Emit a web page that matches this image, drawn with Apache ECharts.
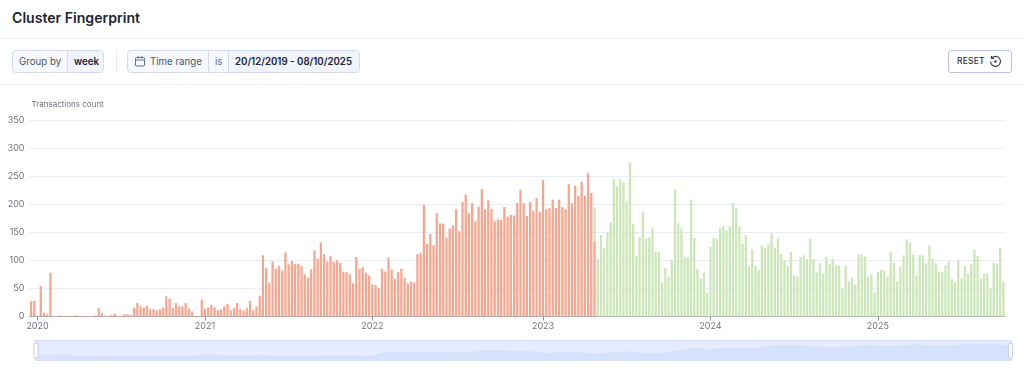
<!DOCTYPE html>
<html>
<head>
<meta charset="utf-8">
<style>
  html, body { margin: 0; padding: 0; background: #fff; }
  body { width: 1024px; height: 374px; position: relative; overflow: hidden; font-family: Inter, sans-serif; color: #1d2433; }
  .abs { position: absolute; box-sizing: border-box; }
  .title { left: 12px; top: 9px; font-size: 14.1px; line-height: 18px; font-weight: 600; }
  .rule { left: 0; width: 1024px; height: 1px; background: #e8ecf5; }
  .chip { top: 50px; height: 23px; border: 1px solid #d3daf0; border-radius: 4px; display: flex; font-size: 9.7px; line-height: 21px; background: #f8f9fe; overflow: hidden; }
  .chip span { box-sizing: border-box; padding: 0 0 0 6px; border-left: 1px solid #d3daf0; white-space: nowrap; }
  .chip span:first-child { border-left: 0; }
  .chip .val { background: #f1f3fa; font-weight: 600; }
  .chip .key { color: #4a5468; }
  .chip .op { color: #5d6f9e; }
  .reset { left: 948px; top: 50px; width: 64px; height: 23px; border: 1px solid #b9c4e4; border-radius: 3px; font-size: 8.5px; font-weight: 500; line-height: 21px; padding-left: 8px; letter-spacing: .2px; color: #2b3345; }
  #chart { left: 0; top: 90px; width: 1024px; height: 284px; }
</style>
<script src="https://cdn.jsdelivr.net/npm/echarts@6/dist/echarts.min.js"></script>
</head>
<body>
<div class="abs title">Cluster Fingerprint</div>
<div class="abs rule" style="top:38px"></div>
<div class="abs chip" style="left:12px;width:92px">
  <span class="key" style="width:54px">Group by</span><span class="val" style="flex:1">week</span>
</div>
<div class="abs" style="left:116px;top:50px;width:1px;height:23px;background:#e4e8f3"></div>
<div class="abs chip" style="left:127px;width:233px">
  <span class="key" style="width:80px;padding-left:22px">Time range</span><span class="op" style="width:20px">is</span><span class="val" style="flex:1">20/12/2019 - 08/10/2025</span>
</div>
<svg class="abs" style="left:134px;top:55px" width="12" height="12" viewBox="0 0 12 12" fill="none" stroke="#5d6f9e" stroke-width="1">
  <rect x="1.5" y="2.5" width="9" height="8.5" rx="1"/><path d="M1.5 5h9M4 1v2.5M8 1v2.5"/>
</svg>
<div class="abs rule" style="top:84px"></div>
<div class="abs reset">RESET</div>
<svg class="abs" style="left:989px;top:55px" width="13" height="13" viewBox="0 0 13 13" fill="none" stroke="#3a4357" stroke-width="1.2">
  <path d="M2.6 3.2A5 5 0 1 1 1.5 6.5M2.4 .9v2.6h2.6"/><circle cx="6.5" cy="6.5" r=".7" fill="#3a4357"/>
</svg>
<div id="chart" class="abs"></div>
<script>
var yTicks = [0, 50, 100, 150, 200, 250, 300, 350];
var yearLabels = { 2: '2020', 54: '2021', 106: '2022', 159: '2023', 211: '2024', 263: '2025' };

// cluster transactions per week
var orangeValues = [
  27,28,0,54,7,4,78,1,1,2,1,1,1,1,2,1,1,1,1,1,2,15,6,1,1,3,5,1,1,4,4,3,15,24,18,16,19,13,13,11,13,16,36,32,15,24,18,18,24,14,9,
  0,0,30,14,16,20,16,11,13,18,22,11,15,24,13,11,15,28,11,18,37,109,86,60,98,85,90,82,114,93,99,94,94,90,75,69,84,118,103,132,111,98,108,97,100,96,80,79,75,59,106,85,88,78,73,57,56,50,85,80,105,84,67,79,85,69,59,
  62,61,111,113,199,129,147,127,184,166,165,140,157,162,191,152,204,217,184,202,170,196,227,191,207,192,170,173,172,195,178,181,180,202,226,202,179,204,188,211,186,243,191,193,208,193,208,195,191,236,202,233,215,240,215,255,220,134
];
var greenValues = [
  60,102,145,123,151,168,245,232,245,239,206,274,165,108,141,187,138,142,157,115,115,60,86,71,100,227,166,157,106,105,208,140,85,67,78,42,124,140,139,158,161,153,161,202,193,160,130,145,89,120,90,83,127,123,129,148,122,139,111,100,90,115,73,71,
  106,109,102,139,102,79,95,76,106,94,103,91,91,50,91,62,69,57,111,110,107,71,75,42,80,83,83,71,115,96,62,88,109,137,131,110,73,109,109,95,127,103,95,79,80,91,98,67,62,100,68,90,76,93,119,108,67,76,76,51,96,93,122,62
];
// trend in the slider, read every 16px across its width
var sliderTrend = [
  17,17,19,13,14,13,13,14,15,15,16,18,16,16,17,15,15,15,16,16,16,15,27,26,27,26,26,24,31,30,
  29,28,23,27,26,21,25,27,24,22,29,38,33,37,37,37,45,45,45,40,39,41,47,43,44,48,44,44,48,48,50,43
];

var weeks = orangeValues.length + greenValues.length - 1;
var categories = [];
for (var i = 0; i < weeks; i++) categories.push(String(i));
var trendCategories = sliderTrend.map(function (v, i) { return String(i); });

var orangeData = categories.map(function (c, i) { return i < orangeValues.length ? orangeValues[i] : null; });
var greenOffset = orangeValues.length - 1;
var greenData = categories.map(function (c, i) { return i >= greenOffset ? greenValues[i - greenOffset] : null; });

var myChart = echarts.init(document.getElementById('chart'));
myChart.setOption({
  animation: false,
  grid: { left: 29.5, right: 19, top: 30, bottom: 57.5 },
  xAxis: [{
    type: 'category',
    data: categories,
    axisLine: { lineStyle: { color: '#a3a7b0', width: 1 } },
    axisTick: {
      show: true,
      alignWithLabel: true,
      length: 4,
      lineStyle: { color: '#8d919b' },
      interval: function (i) { return yearLabels[i] !== undefined; }
    },
    axisLabel: {
      interval: function (i) { return yearLabels[i] !== undefined; },
      formatter: function (v, i) { return yearLabels[i] || ''; },
      color: '#6e7380',
      fontFamily: 'Inter',
      fontSize: 9,
      margin: 5
    }
  }, {
    type: 'category',
    data: trendCategories,
    show: false
  }],
  yAxis: [{
    type: 'value',
    min: yTicks[0],
    max: yTicks[yTicks.length - 1],
    interval: 50,
    name: 'Transactions count',
    nameLocation: 'end',
    nameGap: 11,
    nameTextStyle: { color: '#6e7380', fontFamily: 'Inter', fontSize: 8, align: 'left', padding: [0, 0, 0, 2] },
    axisLine: { show: false },
    axisTick: { show: false },
    splitLine: { lineStyle: { color: '#e9edf8', width: 1 } },
    axisLabel: { color: '#6e7380', fontFamily: 'Inter', fontSize: 9, margin: 5 }
  }, {
    type: 'value',
    show: false,
    splitLine: { show: false }
  }],
  dataZoom: [{
    type: 'slider',
    xAxisIndex: [1, 0],
    filterMode: 'none',
    left: 32.5,
    right: 15,
    top: 250,
    height: 21,
    showDetail: false,
    borderColor: '#d6dff7',
    backgroundColor: '#e6edfd',
    fillerColor: 'rgba(230,237,253,0.2)',
    handleIcon: 'path://M1,0H3A1,1 0 0 1 4,1V13A1,1 0 0 1 3,14H1A1,1 0 0 1 0,13V1A1,1 0 0 1 1,0Z',
    handleSize: '70%',
    handleStyle: { color: '#ffffff', borderColor: '#c5cde6' },
    moveHandleSize: 0,
    dataBackground: { lineStyle: { color: '#c7d6f8', width: 0.5 }, areaStyle: { color: '#d2dffa', opacity: 1 } },
    selectedDataBackground: { lineStyle: { color: '#c7d6f8', width: 0.5 }, areaStyle: { color: '#d2dffa', opacity: 1 } }
  }],
  series: [{
    name: 'trend',
    type: 'line',
    xAxisIndex: 1,
    yAxisIndex: 1,
    data: sliderTrend,
    symbol: 'none',
    silent: true,
    lineStyle: { opacity: 0 }
  }, {
    name: 'cluster a',
    type: 'bar',
    stack: 'total',
    data: orangeData,
    barCategoryGap: '30%',
    itemStyle: { color: '#f4a68f' }
  }, {
    name: 'cluster b',
    type: 'bar',
    stack: 'total',
    data: greenData,
    barCategoryGap: '30%',
    itemStyle: { color: '#cbe6b7' }
  }]
});
</script>
</body>
</html>
